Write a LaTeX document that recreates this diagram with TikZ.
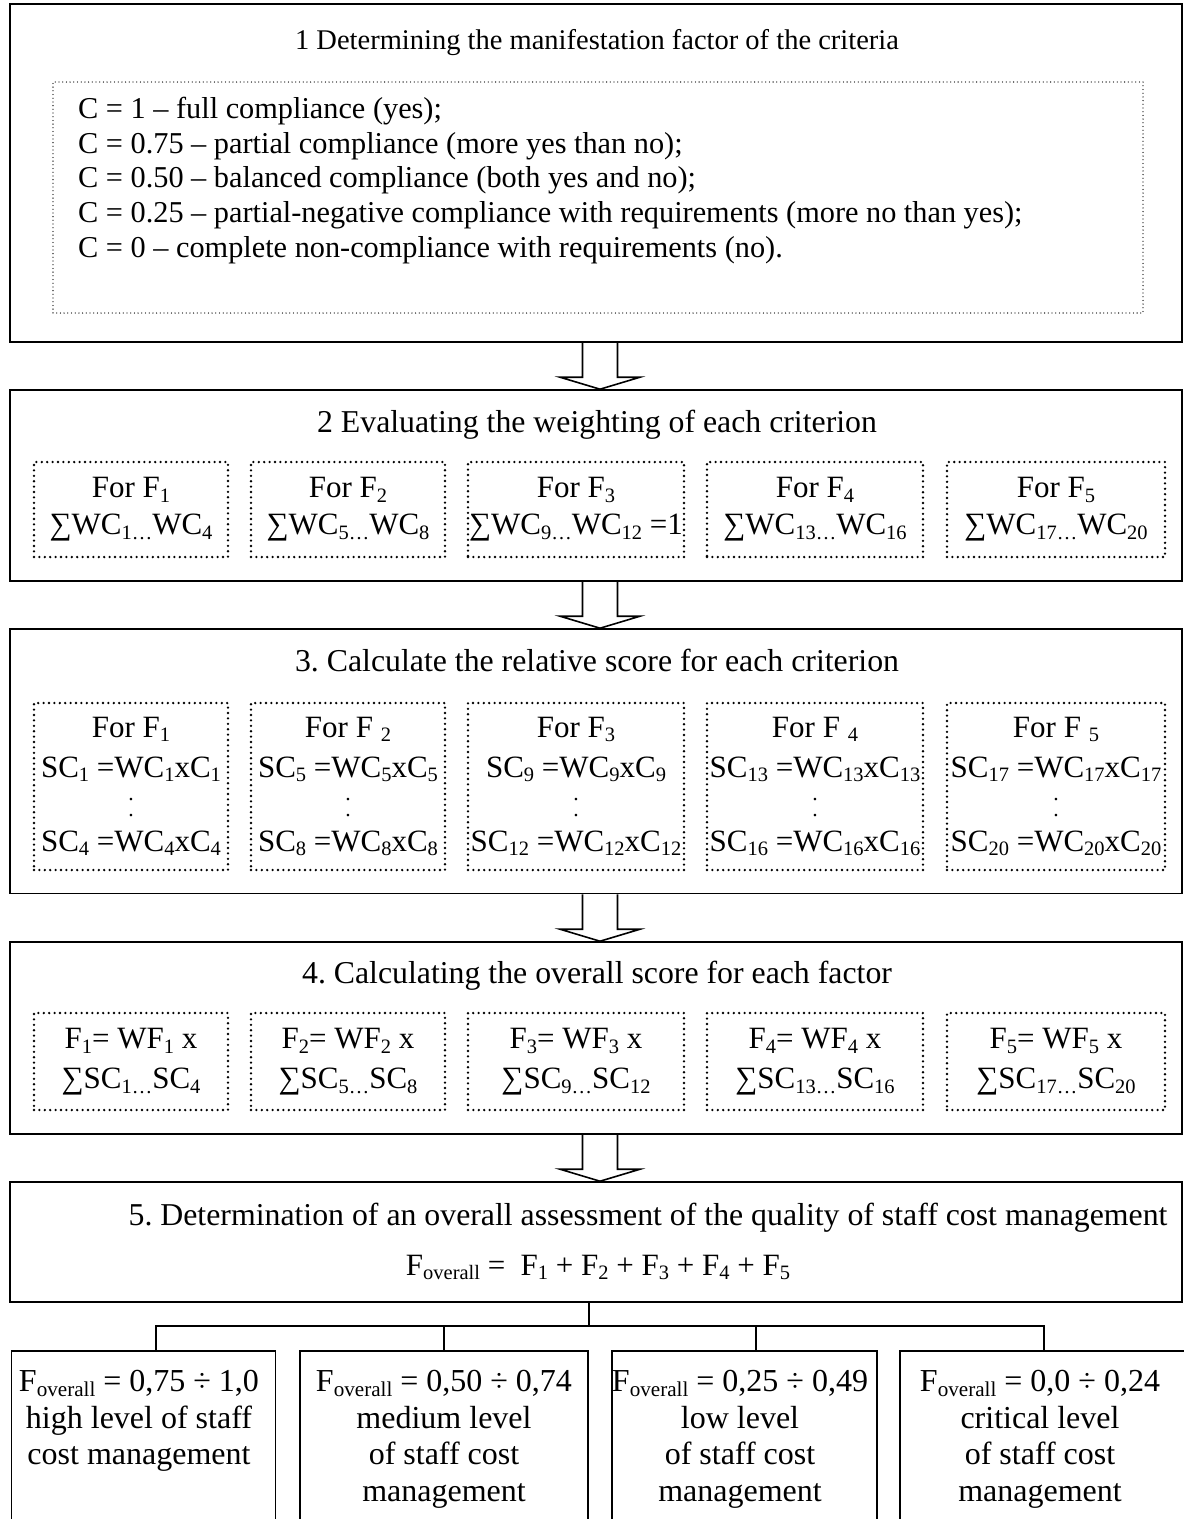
\documentclass[tikz,border=0pt]{standalone}
\usepackage{fontspec}
\usepackage{graphicx}
\setmainfont{Liberation Serif}
\usetikzlibrary{calc}

% lowered, reduced index as set in the source document
\newcommand{\lo}[1]{\raisebox{-0.15em}{\scalebox{0.66}{#1}}}
% small elision dot between the first and last formula of a column
\newcommand{\eldot}{\scalebox{0.7}{.}}
% hollow block arrow from one box edge to the next
\newcommand{\blockarrow}[2]{%
  \draw[blk] ($(#1)+(-17.5,0)$) -- ($(#2)+(-17.5,-12)$) -- ($(#2)+(-40,-12)$)
    -- (#2) -- ($(#2)+(40,-12)$) -- ($(#2)+(17.5,-12)$) -- ($(#1)+(17.5,0)$);}

\begin{document}
\frenchspacing
\begin{tikzpicture}[x=1pt,y=-1pt,
  txt/.style={font=\fontsize{31.8}{35}\selectfont, inner sep=0pt},
  listtxt/.style={font=\fontsize{30.3}{34.75}\selectfont, inner sep=0pt},
  stage/.style={draw, line width=1.6pt, inner sep=0pt},
  dotbox/.style={draw, line width=2.6pt, dash pattern=on 0pt off 5.4pt, line cap=round,
    inner sep=0pt, align=center, font=\fontsize{31}{35}\selectfont},
  finedots/.style={draw, line width=1.3pt, dash pattern=on 0pt off 3.7pt, line cap=round, inner sep=0pt},
  blk/.style={draw, line width=1.6pt, line join=miter},
  result/.style={draw, line width=1.6pt, inner sep=0pt},
  restxt/.style={font=\fontsize{32}{36.7}\selectfont, inner sep=0pt, align=center, anchor=north},
  link/.style={line width=1.5pt}]
\useasboundingbox (0,0) rectangle (1184,1519);

% ---------- stage frames ----------
\node[stage, minimum width=1172pt, minimum height=338pt] (s1) at (596,173) {};
\node[stage, minimum width=1172pt, minimum height=191pt] (s2) at (596,485.5) {};
\node[stage, minimum width=1172pt, minimum height=264.5pt] (s3) at (596,761.25) {};
\node[stage, minimum width=1172pt, minimum height=192pt] (s4) at (596,1038) {};
\node[stage, minimum width=1172pt, minimum height=120pt] (s5) at (596,1242) {};

% ---------- stage 1 ----------
\node[txt, anchor=base, font=\fontsize{28.5}{33}\selectfont] (t1) at (597,49.5)
  {1 Determining the manifestation factor of the criteria};
\node[finedots, minimum width=1090pt, minimum height=231pt] (d1) at (598,197.5) {};
\node[listtxt, anchor=west, align=left] (list) at (78,180.5) {%
C = 1 – full compliance (yes);\\
C = 0.75 – partial compliance (more yes than no);\\
C = 0.50 – balanced compliance (both yes and no);\\
C = 0.25 – partial-negative compliance with requirements (more no than yes);\\
C = 0 – complete non-compliance with requirements (no).};

% ---------- stage 2 ----------
\node[txt, anchor=base] (t2) at (597,432) {2 Evaluating the weighting of each criterion};
\node[dotbox, minimum width=194pt, minimum height=95pt] (w1) at (131,509.5)
  {For F\lo{1}\\[2pt]∑WC\lo{1…}WC\lo{4}};
\node[dotbox, minimum width=194pt, minimum height=95pt] (w2) at (348,509.5)
  {For F\lo{2}\\[2pt]∑WC\lo{5…}WC\lo{8}};
\node[dotbox, minimum width=216pt, minimum height=95pt] (w3) at (576,509.5)
  {For F\lo{3}\\[2pt]∑WC\lo{9…}WC\lo{12} =1};
\node[dotbox, minimum width=216pt, minimum height=95pt] (w4) at (815,509.5)
  {For F\lo{4}\\[2pt]∑WC\lo{13…}WC\lo{16}};
\node[dotbox, minimum width=218pt, minimum height=95pt] (w5) at (1056,509.5)
  {For F\lo{5}\\[2pt]∑WC\lo{17…}WC\lo{20}};

% ---------- stage 3 ----------
\node[txt, anchor=base] (t3) at (597,671) {3. Calculate the relative score for each criterion};
\node[dotbox, minimum width=194pt, minimum height=167pt] (r1) at (131,786.5)
  {For F\lo{1}\\[5pt]SC\lo{1} =WC\lo{1}xC\lo{1}\\[-11.5pt]\eldot\\[-19pt]\eldot\\[-0.5pt]SC\lo{4} =WC\lo{4}xC\lo{4}};
\node[dotbox, minimum width=194pt, minimum height=167pt] (r2) at (348,786.5)
  {For F \lo{2}\\[5pt]SC\lo{5} =WC\lo{5}xC\lo{5}\\[-11.5pt]\eldot\\[-19pt]\eldot\\[-0.5pt]SC\lo{8} =WC\lo{8}xC\lo{8}};
\node[dotbox, minimum width=216pt, minimum height=167pt] (r3) at (576,786.5)
  {For F\lo{3}\\[5pt]SC\lo{9} =WC\lo{9}xC\lo{9}\\[-11.5pt]\eldot\\[-19pt]\eldot\\[-0.5pt]SC\lo{12} =WC\lo{12}xC\lo{12}};
\node[dotbox, minimum width=216pt, minimum height=167pt] (r4) at (815,786.5)
  {For F \lo{4}\\[5pt]SC\lo{13} =WC\lo{13}xC\lo{13}\\[-11.5pt]\eldot\\[-19pt]\eldot\\[-0.5pt]SC\lo{16} =WC\lo{16}xC\lo{16}};
\node[dotbox, minimum width=218pt, minimum height=167pt] (r5) at (1056,786.5)
  {For F \lo{5}\\[5pt]SC\lo{17} =WC\lo{17}xC\lo{17}\\[-11.5pt]\eldot\\[-19pt]\eldot\\[-0.5pt]SC\lo{20} =WC\lo{20}xC\lo{20}};

% ---------- stage 4 ----------
\node[txt, anchor=base] (t4) at (597,983) {4. Calculating the overall score for each factor};
\node[dotbox, minimum width=194pt, minimum height=97pt] (g1) at (131,1061.5)
  {F\lo{1}= WF\lo{1} x\\[5pt]∑SC\lo{1…}SC\lo{4}};
\node[dotbox, minimum width=194pt, minimum height=97pt] (g2) at (348,1061.5)
  {F\lo{2}= WF\lo{2} x\\[5pt]∑SC\lo{5…}SC\lo{8}};
\node[dotbox, minimum width=216pt, minimum height=97pt] (g3) at (576,1061.5)
  {F\lo{3}= WF\lo{3} x\\[5pt]∑SC\lo{9…}SC\lo{12}};
\node[dotbox, minimum width=216pt, minimum height=97pt] (g4) at (815,1061.5)
  {F\lo{4}= WF\lo{4} x\\[5pt]∑SC\lo{13…}SC\lo{16}};
\node[dotbox, minimum width=218pt, minimum height=97pt] (g5) at (1056,1061.5)
  {F\lo{5}= WF\lo{5} x\\[5pt]∑SC\lo{17…}SC\lo{20}};

% ---------- stage 5 ----------
\node[txt, anchor=base] (t5) at (648,1225) {5. Determination of an overall assessment of the quality of staff cost management};
\node[txt, anchor=base, font=\fontsize{31}{35}\selectfont] (f5) at (598,1275)
  {F\lo{overall} =\ \ F\lo{1} + F\lo{2} + F\lo{3} + F\lo{4} + F\lo{5}};

% ---------- arrows between stages ----------
\coordinate (ax) at (600,0);
\coordinate (a1s) at (s1.south -| ax); \coordinate (a1e) at (s2.north -| ax);
\coordinate (a2s) at (s2.south -| ax); \coordinate (a2e) at (s3.north -| ax);
\coordinate (a3s) at (s3.south -| ax); \coordinate (a3e) at (s4.north -| ax);
\coordinate (a4s) at (s4.south -| ax); \coordinate (a4e) at (s5.north -| ax);
\blockarrow{a1s}{a1e}
\blockarrow{a2s}{a2e}
\blockarrow{a3s}{a3e}
\blockarrow{a4s}{a4e}

% ---------- quality levels ----------
\node[result, minimum width=264pt, minimum height=179pt] (rA) at (143.5,1440.5) {};
\node[result, minimum width=288pt, minimum height=179pt] (rB) at (444,1440.5) {};
\node[result, minimum width=265pt, minimum height=179pt] (rC) at (744.5,1440.5) {};
\node[result, minimum width=300pt, minimum height=179pt] (rD) at (1050,1440.5) {};

\node[restxt] (tA) at (139,1370) {F\lo{overall} = 0,75 ÷ 1,0\\high level of staff\\cost management};
\node[restxt] (tB) at (444,1370) {F\lo{overall} = 0,50 ÷ 0,74\\medium level\\of staff cost\\management};
\node[restxt] (tC) at (740,1370) {F\lo{overall} = 0,25 ÷ 0,49\\low level\\of staff cost\\management};
\node[restxt] (tD) at (1040,1370) {F\lo{overall} = 0,0 ÷ 0,24\\critical level\\of staff cost\\management};

% ---------- tree connectors ----------
\coordinate (bus) at (0,1326);
\coordinate (ca) at ([xshift=12.5pt]rA.north);
\coordinate (cc) at ([xshift=11.5pt]rC.north);
\coordinate (cd) at ([xshift=-6pt]rD.north);
\draw[link] (rB.north east |- s5.south) -- (rB.north east |- bus);
\draw[link] (ca) -- (ca |- bus) -| (cd);
\draw[link] (rB.north) -- (rB.north |- bus);
\draw[link] (cc) -- (cc |- bus);
\end{tikzpicture}
\end{document}
